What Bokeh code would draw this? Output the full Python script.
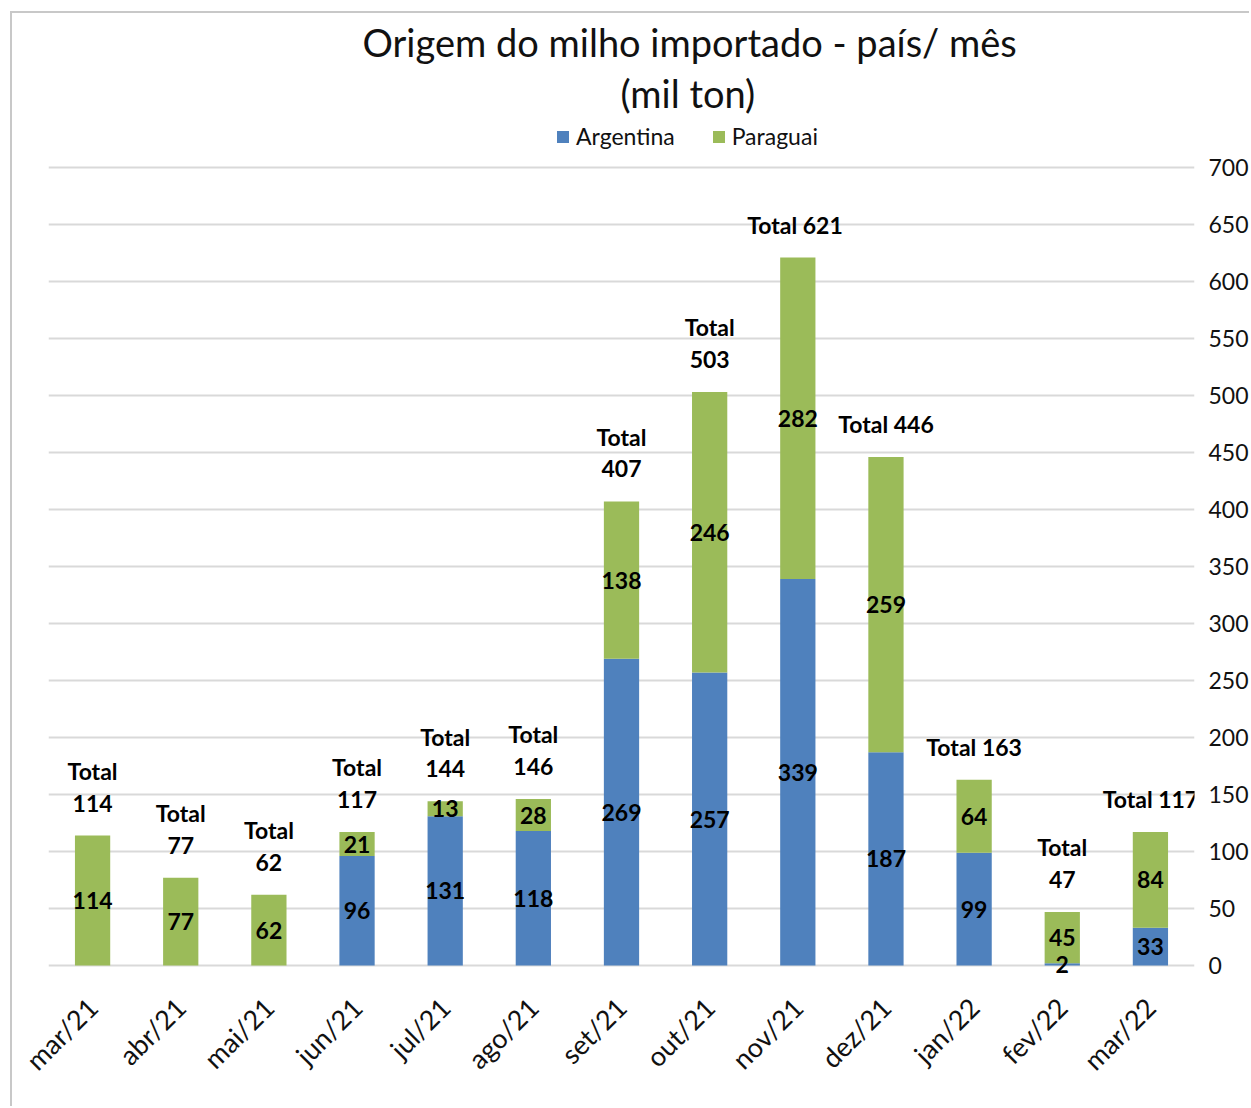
import math
from bokeh.plotting import figure
from bokeh.models import ColumnDataSource, FactorRange, Range1d, Legend, LegendItem, Title, FixedTicker
from bokeh.core.properties import value
from bokeh.embed import file_html
from bokeh.resources import INLINE

# ---- data ----
months = ["mar/21", "abr/21", "mai/21", "jun/21", "jul/21", "ago/21", "set/21",
          "out/21", "nov/21", "dez/21", "jan/22", "fev/22", "mar/22"]
argentina = [0, 0, 0, 96, 131, 118, 269, 257, 339, 187, 99, 2, 33]
paraguai = [114, 77, 62, 21, 13, 28, 138, 246, 282, 259, 64, 45, 84]
total_sep = ["\n", "\n", "\n", "\n", "\n", "\n", "\n", "\n", "  ", " ", " ", "\n", " "]
y_ticks = list(range(0, 701, 50))

# ---- style ----
FONT = "Lato"
BLUE = "#4F81BD"
GREEN = "#9BBB59"
GRID = "#D9D9D9"
TXT = "#111111"

totals = [a + b for a, b in zip(argentina, paraguai)]
src = ColumnDataSource(dict(month=months, Argentina=argentina, Paraguai=paraguai,
                            total=totals,
                            total_label=[f"Total{s}{t}" for s, t in zip(total_sep, totals)]))

seg_x, seg_y, seg_t = [], [], []
for m, a, b in zip(months, argentina, paraguai):
    if a > 0:
        seg_x.append(m); seg_y.append(a / 2); seg_t.append(str(a))
    if b > 0:
        seg_x.append(m); seg_y.append(a + b / 2); seg_t.append(str(b))
seg_src = ColumnDataSource(dict(x=seg_x, y=seg_y, t=seg_t))

FRAME_H = 873
p = figure(x_range=FactorRange(*months, range_padding=0), y_range=Range1d(-20.18, 745.6),
           width=1239, height=1095, output_backend="svg", toolbar_location=None,
           title=None, y_axis_location="right",
           min_border_left=36, min_border_right=56, min_border_top=102, min_border_bottom=120)
p.styles = {"margin-left": "10px", "margin-top": "11px",
            "border-left": "2px solid #C8C8C8", "border-top": "2px solid #C8C8C8"}

rs = p.vbar_stack(["Argentina", "Paraguai"], x="month", width=0.4, source=src,
                  fill_color=[BLUE, GREEN], line_color=None)

p.text(x="x", y="y", text="t", source=seg_src, text_font=value(FONT), text_font_style="bold",
       text_font_size="23px", text_align="center", text_baseline="middle", text_color="black")
p.text(x="month", y="total", text="total_label", source=src, text_font=value(FONT),
       text_font_style="bold", text_font_size="23px", text_align="center",
       text_baseline="bottom", y_offset=-19, text_line_height=1.13, text_color="black")

p.outline_line_color = None
p.xgrid.grid_line_color = None
p.ygrid.ticker = FixedTicker(ticks=y_ticks)
p.ygrid.grid_line_color = GRID
p.ygrid.grid_line_width = 2

p.yaxis.ticker = FixedTicker(ticks=y_ticks)
for ax in (p.xaxis, p.yaxis):
    ax.axis_line_color = None
    ax.major_tick_line_color = None
    ax.minor_tick_line_color = None
    ax.major_label_text_font = FONT
    ax.major_label_text_color = TXT
p.yaxis.major_label_text_font_size = "23px"
p.yaxis.major_label_standoff = 8
p.xaxis.major_label_text_font_size = "27px"
p.xaxis.major_label_orientation = math.pi / 4
p.xaxis.major_label_standoff = 8

legend = Legend(items=[LegendItem(label="Argentina", renderers=[rs[0]]),
                       LegendItem(label="Paraguai", renderers=[rs[1]])],
                orientation="horizontal", location=(507, FRAME_H - 35),
                glyph_width=15, glyph_height=15, label_standoff=6, spacing=36,
                padding=2, margin=0, border_line_color=None, background_fill_alpha=0,
                label_text_font=FONT, label_text_font_size="23px", label_text_color=TXT)
p.add_layout(legend, "center")
p.add_layout(Title(text="(mil ton)", align="left", offset=572, text_font=FONT,
                   text_font_size="38px", text_font_style="normal", text_color=TXT,
                   standoff=0), "above")
p.add_layout(Title(text="Origem do milho importado - país/ mês", align="left", offset=314,
                   text_font=FONT, text_font_size="38px", text_font_style="normal",
                   text_color=TXT, standoff=6), "above")

with open("out.html", "w", encoding="utf-8") as f:
    f.write(file_html(p, INLINE))
